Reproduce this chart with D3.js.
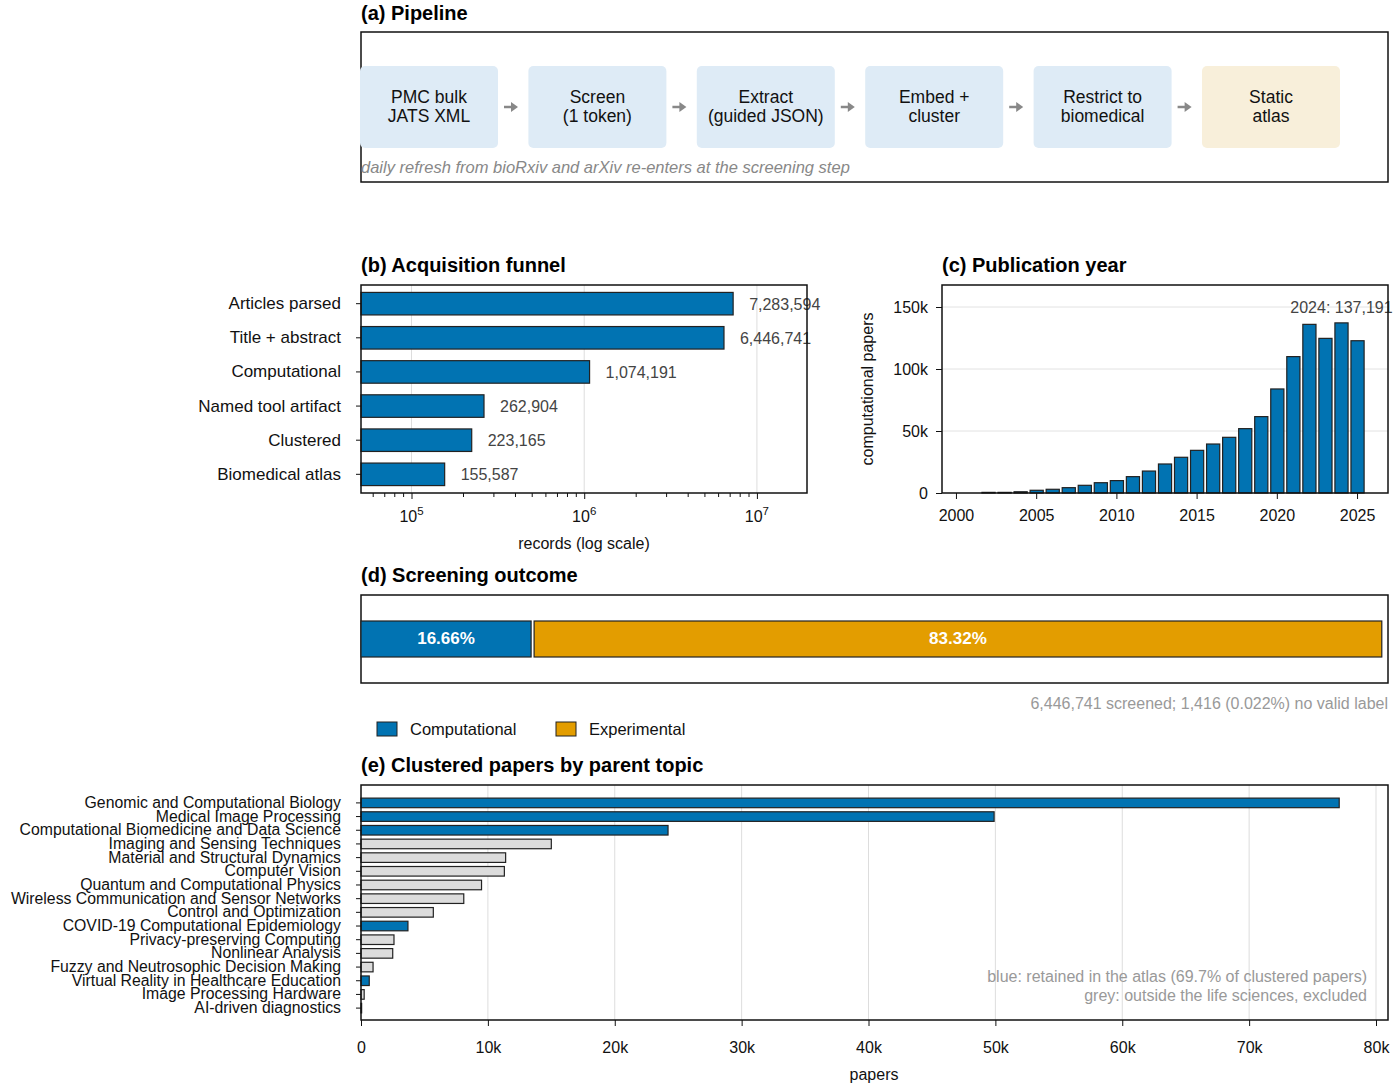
<!DOCTYPE html>
<html><head><meta charset="utf-8">
<script src="https://cdn.jsdelivr.net/npm/d3@7"></script>
<style>body{margin:0;background:#fff}svg{font-family:"Liberation Sans",Arial,sans-serif}</style>
</head><body><svg id="c" width="1400" height="1087"></svg>
<script>
const pipelineSteps=["PMC bulk\nJATS XML","Screen\n(1 token)","Extract\n(guided JSON)","Embed +\ncluster","Restrict to\nbiomedical","Static\natlas"];
const funnelLabels=["Articles parsed","Title + abstract","Computational","Named tool artifact","Clustered","Biomedical atlas"];
const funnelValues=[7283594,6446741,1074191,262904,223165,155587];
const years=d3.range(2000,2026);
const yearValues=[0,0,500,500,1000,2200,3000,4300,6200,8300,10000,13200,17700,23400,28800,34400,39500,44900,51900,61600,83900,110000,136000,124700,137191,122800];
const screenLabels=["Computational","Experimental"];
const screenValues=[16.66,83.32];
const topics=["Genomic and Computational Biology","Medical Image Processing","Computational Biomedicine and Data Science","Imaging and Sensing Techniques","Material and Structural Dynamics","Computer Vision","Quantum and Computational Physics","Wireless Communication and Sensor Networks","Control and Optimization","COVID-19 Computational Epidemiology","Privacy-preserving Computing","Nonlinear Analysis","Fuzzy and Neutrosophic Decision Making","Virtual Reality in Healthcare Education","Image Processing Hardware","AI-driven diagnostics"];
const topicValues=[77100,49900,24200,15000,11400,11300,9500,8100,5700,3700,2600,2500,950,650,250,50];
const topicRetained=[1,1,1,0,0,0,0,0,0,1,0,0,0,1,0,0];

const BLUE="#0173b2",GREY="#dcdcdc",EDGE="#222";
const svg=d3.select("#c");
function title(x,y,t){svg.append("text").attr("x",x).attr("y",y).attr("font-size",20).attr("font-weight","bold").text(t);}
function frame(x0,y0,x1,y1){svg.append("rect").attr("x",x0).attr("y",y0).attr("width",x1-x0).attr("height",y1-y0).attr("fill","none").attr("stroke","#111").attr("stroke-width",1.5);}
function styleAxis(g){g.selectAll("text").attr("font-size",16).attr("fill","#111").style("font-family","Liberation Sans,Arial");g.select(".domain").remove();g.selectAll("line").attr("stroke","#111");}

// (a)
title(361,20,"(a) Pipeline");
frame(361,32,1388,182);
const px=d3.scalePoint().domain(pipelineSteps.map((d,i)=>i)).range([429,1271]);
pipelineSteps.forEach((s,i)=>{
  const cx=px(i);
  svg.append("rect").attr("x",cx-69).attr("y",66).attr("width",138).attr("height",82).attr("rx",5).attr("fill",i==5?"#f8efda":"#deebf6");
  s.split("\n").forEach((l,j)=>svg.append("text").attr("x",cx).attr("y",103+j*19).attr("text-anchor","middle").attr("font-size",17.5).attr("fill","#111").text(l));
  if(i<5){const ax=cx+75;svg.append("line").attr("x1",ax).attr("x2",ax+8).attr("y1",107).attr("y2",107).attr("stroke","#888").attr("stroke-width",2.5);
    svg.append("path").attr("d",`M${ax+7},102 L${ax+14},107 L${ax+7},112Z`).attr("fill","#888");}
});
svg.append("text").attr("x",361).attr("y",173).attr("font-size",16.5).attr("font-style","italic").attr("fill","#888").text("daily refresh from bioRxiv and arXiv re-enters at the screening step");

// (b)
title(361,272,"(b) Acquisition funnel");
const bx=d3.scaleLog().domain([5.1e4,1.95e7]).range([361,807]);
const by=d3.scaleBand().domain(funnelLabels).range([289,489]).paddingInner(0.34).paddingOuter(0.1);
[1e5,1e6,1e7].forEach(v=>svg.append("line").attr("x1",bx(v)).attr("x2",bx(v)).attr("y1",285).attr("y2",493).attr("stroke","#ddd"));
svg.selectAll(".fb").data(funnelValues).join("rect").attr("x",361).attr("y",(d,i)=>by(funnelLabels[i])).attr("width",d=>bx(d)-361).attr("height",by.bandwidth()).attr("fill",BLUE).attr("stroke",EDGE).attr("stroke-width",1.2);
svg.selectAll(".fl").data(funnelValues).join("text").attr("x",d=>bx(d)+16).attr("y",(d,i)=>by(funnelLabels[i])+by.bandwidth()/2+6).attr("font-size",16).attr("fill","#444").text(d=>d3.format(",")(d));
const gbx=svg.append("g").attr("transform","translate(0,493)").call(d3.axisBottom(bx).tickValues([1e5,1e6,1e7]).tickFormat(()=>"").tickSize(6));
styleAxis(gbx);
const minor=[];for(let e=4;e<8;e++)for(let m=2;m<10;m++){const v=m*Math.pow(10,e);if(v>=5.1e4&&v<=1.95e7)minor.push(v);}
minor.forEach(v=>svg.append("line").attr("x1",bx(v)).attr("x2",bx(v)).attr("y1",493).attr("y2",497).attr("stroke","#111"));
[5,6,7].forEach(e=>{const t=svg.append("text").attr("x",bx(Math.pow(10,e))).attr("y",522).attr("text-anchor","middle").attr("font-size",16).attr("fill","#111");t.append("tspan").text("10");t.append("tspan").attr("dy",-7).attr("font-size",11.5).text(e);});
svg.append("text").attr("x",584).attr("y",549).attr("text-anchor","middle").attr("font-size",16).attr("fill","#111").text("records (log scale)");
const gby=svg.append("g").attr("transform","translate(361,0)").call(d3.axisLeft(by).tickSize(5).tickPadding(15));
styleAxis(gby);gby.selectAll("text").attr("font-size",17);
frame(361,285,807,493);

// (c)
title(942,272,"(c) Publication year");
const cx=d3.scaleBand().domain(years).range([947,1367]).padding(0.18);
const cy=d3.scaleLinear().domain([0,150000]).range([493,307]);
[50000,100000,150000].forEach(v=>svg.append("line").attr("x1",942).attr("x2",1388).attr("y1",cy(v)).attr("y2",cy(v)).attr("stroke","#e2e2e2"));
svg.selectAll(".yb").data(yearValues).join("rect").attr("x",(d,i)=>cx(years[i])).attr("y",d=>cy(d)).attr("width",cx.bandwidth()).attr("height",d=>493-cy(d)).attr("fill",BLUE).attr("stroke",EDGE).attr("stroke-width",1.2);
svg.append("text").attr("x",cx(2024)+cx.bandwidth()/2).attr("y",cy(137191)-10).attr("text-anchor","middle").attr("font-size",16).attr("fill","#444").text("2024: "+d3.format(",")(137191));
const gcx=svg.append("g").attr("transform","translate(0,493)").call(d3.axisBottom(cx).tickValues([2000,2005,2010,2015,2020,2025]).tickSize(6).tickPadding(6));
styleAxis(gcx);gcx.selectAll("text").attr("dy","1em");
const gcy=svg.append("g").attr("transform","translate(942,0)").call(d3.axisLeft(cy).tickValues([0,50000,100000,150000]).tickFormat(d=>d?d/1000+"k":"0").tickSize(6).tickPadding(8));
styleAxis(gcy);
svg.append("text").attr("transform","translate(873,389) rotate(-90)").attr("text-anchor","middle").attr("font-size",16).attr("fill","#111").text("computational papers");
frame(942,285,1388,493);

// (d)
title(361,582,"(d) Screening outcome");
frame(361,595,1388,683);
const dx=d3.scaleLinear().domain([0,100]).range([361,1382]);
let acc=0;
screenValues.forEach((v,i)=>{const x0=dx(acc)+(i?3:0),x1=dx(acc+v);
  svg.append("rect").attr("x",x0).attr("y",621).attr("width",x1-x0).attr("height",36).attr("fill",i?"#e39d00":BLUE).attr("stroke",EDGE).attr("stroke-width",1.2);
  svg.append("text").attr("x",(x0+x1)/2).attr("y",644).attr("text-anchor","middle").attr("font-size",17).attr("font-weight","bold").attr("fill","#fff").text(v.toFixed(2)+"%");
  acc+=v;});
svg.append("text").attr("x",1388).attr("y",709).attr("text-anchor","end").attr("font-size",16).attr("fill","#999").text("6,446,741 screened; 1,416 (0.022%) no valid label");
[[377,screenLabels[0],BLUE],[556,screenLabels[1],"#e39d00"]].forEach(([x,t,c])=>{
  svg.append("rect").attr("x",x).attr("y",722).attr("width",20).attr("height",14).attr("fill",c).attr("stroke",EDGE);
  svg.append("text").attr("x",x+33).attr("y",735).attr("font-size",16.5).attr("fill","#111").text(t);});

// (e)
title(361,772,"(e) Clustered papers by parent topic");
const ex=d3.scaleLinear().domain([0,80000]).range([361,1376]);
const ey=d3.scaleBand().domain(topics).range([794,1017]).padding(0.3);
d3.range(10000,80001,10000).forEach(v=>svg.append("line").attr("x1",ex(v)).attr("x2",ex(v)).attr("y1",785).attr("y2",1020).attr("stroke","#ddd"));
svg.selectAll(".eb").data(topicValues).join("rect").attr("x",361).attr("y",(d,i)=>ey(topics[i])).attr("width",d=>ex(d)-361).attr("height",ey.bandwidth()).attr("fill",(d,i)=>topicRetained[i]?BLUE:GREY).attr("stroke",EDGE).attr("stroke-width",1.2);
const gey=svg.append("g").attr("transform","translate(361,0)").call(d3.axisLeft(ey).tickSize(5).tickPadding(15));
styleAxis(gey);gey.selectAll("text").attr("font-size",15.8);
const gex=svg.append("g").attr("transform","translate(0,1020)").call(d3.axisBottom(ex).tickValues(d3.range(0,80001,10000)).tickFormat(d=>d?d/1000+"k":"0").tickSize(6).tickPadding(11));
styleAxis(gex);gex.selectAll("text").attr("dy","1em");
svg.append("text").attr("x",874).attr("y",1080).attr("text-anchor","middle").attr("font-size",16).attr("fill","#111").text("papers");
svg.append("text").attr("x",1367).attr("y",982).attr("text-anchor","end").attr("font-size",16).attr("fill","#999").text("blue: retained in the atlas (69.7% of clustered papers)");
svg.append("text").attr("x",1367).attr("y",1001).attr("text-anchor","end").attr("font-size",16).attr("fill","#999").text("grey: outside the life sciences, excluded");
frame(361,785,1388,1020);
</script></body></html>
